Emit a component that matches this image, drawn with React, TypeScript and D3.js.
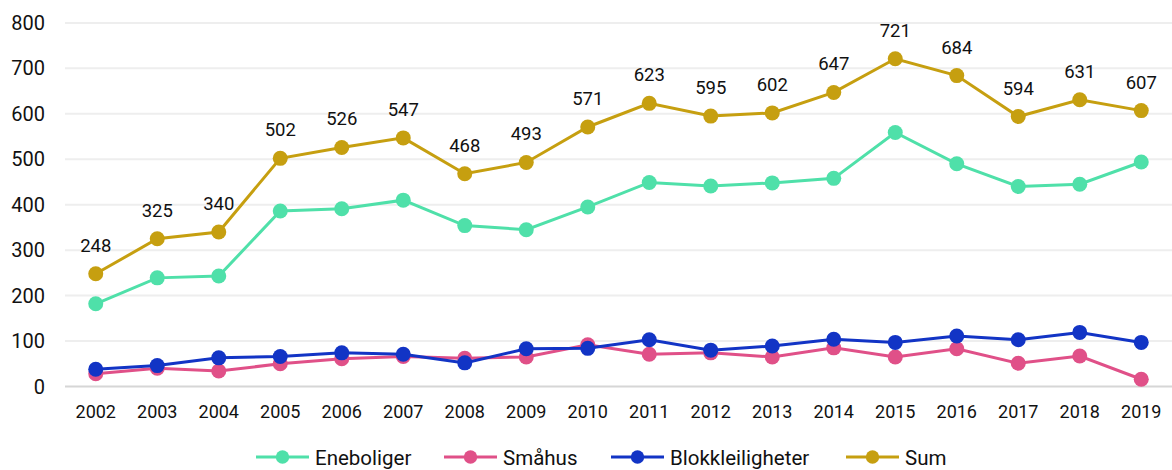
import React from 'react';
import * as d3 from 'd3';

// years on the x axis
const years = ['2002', '2003', '2004', '2005', '2006', '2007', '2008', '2009', '2010',
    '2011', '2012', '2013', '2014', '2015', '2016', '2017', '2018', '2019'];

const eneboliger = [182, 239, 243, 386, 391, 410, 354, 345, 395, 449, 441, 448, 458, 559, 490, 440, 445, 494];
const smahus = [28, 40, 34, 50, 61, 66, 62, 65, 92, 71, 74, 65, 85, 65, 83, 51, 67, 16];
const blokk = [38, 46, 63, 66, 74, 71, 52, 83, 84, 103, 80, 89, 104, 97, 111, 103, 119, 97];
const sum = [248, 325, 340, 502, 526, 547, 468, 493, 571, 623, 595, 602, 647, 721, 684, 594, 631, 607];

const yTicks = [0, 100, 200, 300, 400, 500, 600, 700, 800];

const series = [
    { name: 'Eneboliger', values: eneboliger, color: '#4fe0a9' },
    { name: 'Småhus', values: smahus, color: '#e05088' },
    { name: 'Blokkleiligheter', values: blokk, color: '#1234c5' },
    { name: 'Sum', values: sum, color: '#c69f10' },
];

const W = 1172;
const H = 470;
const font = 'Roboto, sans-serif';

export default function App() {
    const x = d3.scaleBand().domain(years).range([65, 1172]);
    const y = d3.scaleLinear().domain([0, 800]).range([386.5, 22.9]);
    const cx = (yr) => x(yr) + x.bandwidth() / 2;

    const line = d3.line()
        .x((d, i) => cx(years[i]))
        .y(d => y(d));

    // where each legend item starts
    const legendX = [256, 444, 611, 846];

    return (
        <svg width={W} height={H} style={{ position: 'absolute', left: 0, top: 0, background: '#fff' }}>
            {yTicks.map(t => (
                <g key={t}>
                    <line x1={65} x2={1172} y1={y(t)} y2={y(t)}
                        stroke={t === 0 ? '#d6d6d6' : '#eeeeee'} strokeWidth={2} />
                    <text x={45} y={y(t) + 7} textAnchor="end" fontFamily={font} fontSize={20} fill="#111">{t}</text>
                </g>
            ))}
            {years.map(yr => (
                <text key={yr} x={cx(yr)} y={418} textAnchor="middle" fontFamily={font} fontSize={18} fill="#111">{yr}</text>
            ))}
            {series.map(s => (
                <g key={s.name}>
                    <path d={line(s.values)} fill="none" stroke={s.color} strokeWidth={3} />
                    {s.values.map((v, i) => (
                        <circle key={i} cx={cx(years[i])} cy={y(v)} r={7.5} fill={s.color} />
                    ))}
                </g>
            ))}
            {sum.map((v, i) => (
                <text key={i} x={cx(years[i])} y={y(v) - 22} textAnchor="middle" fontFamily={font} fontSize={18.5} fill="#111">{v}</text>
            ))}
            {series.map((s, i) => (
                <g key={s.name} transform={`translate(${legendX[i]},457)`}>
                    <line x1={0} x2={53} y1={0} y2={0} stroke={s.color} strokeWidth={3} />
                    <circle cx={26.5} cy={0} r={6.7} fill={s.color} />
                    <text x={59} y={8} fontFamily={font} fontSize={20.5} fill="#111">{s.name}</text>
                </g>
            ))}
        </svg>
    );
}
